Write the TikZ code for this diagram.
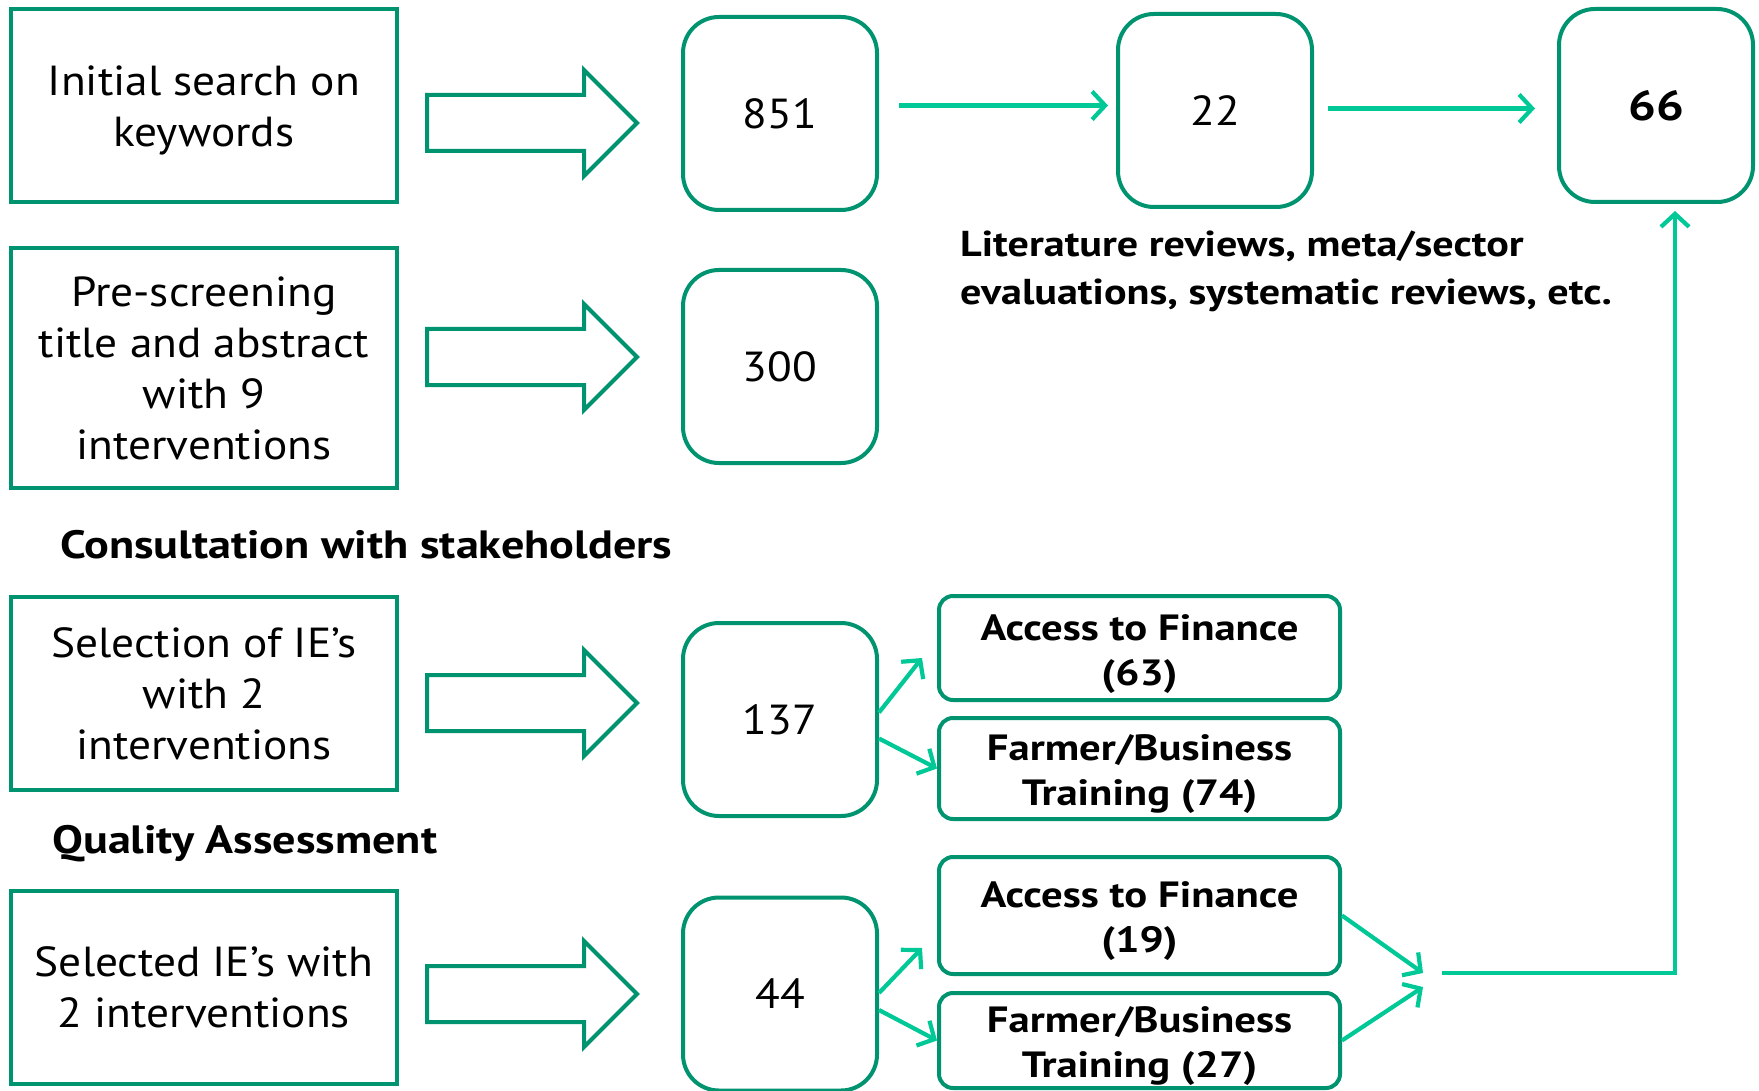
\documentclass[tikz,border=0pt]{standalone}
\usepackage{fontspec}
\setmainfont{PT Sans}[FakeStretch=1.08, BoldFeatures={FakeStretch=1.17}]
\usepackage{tikz}
\usetikzlibrary{shapes.arrows}
\usetikzlibrary{arrows.meta}
\usetikzlibrary{positioning}
\usetikzlibrary{calc}
\definecolor{boxgreen}{HTML}{00936F}
\definecolor{linegreen}{HTML}{00C896}
\newcommand{\boxfont}{\fontsize{42}{51}\selectfont}
\newcommand{\groupfont}{\fontsize{36.5}{45}\selectfont\bfseries}
\newcommand{\notefont}{\fontsize{39.5}{48}\selectfont\bfseries}
\newcommand{\grouplabel}[2]{\rule{0pt}{38pt}#1\\#2}
\tikzstyle{flow} = [draw=linegreen, line width=4.2pt, -{Straight Barb[length=13pt,width=28pt]}]

\begin{document}
\begin{tikzpicture}[x=1pt, y=-1pt,
				stepbox/.style={draw=boxgreen, line width=4pt, minimum width=386pt, inner sep=0pt, align=center, font=\boxfont},
				countbox/.style={draw=boxgreen, line width=4pt, rounded corners=36pt, minimum width=194pt, minimum height=193pt, font=\boxfont},
				groupbox/.style={draw=boxgreen, line width=4pt, rounded corners=14pt, minimum width=401pt, inner sep=0pt, align=center, font=\groupfont},
				bigarrow/.style={draw=boxgreen, line width=4pt, single arrow, single arrow head extend=25pt, minimum height=210pt, inner ysep=26pt, inner xsep=0pt}]
				\useasboundingbox (0,0) rectangle (1759,1091);
				% left column
				\node[stepbox, minimum height=193pt](box1) at (204, 105.5) {\rule{0pt}{40pt}Initial search on\\keywords};
				\node[stepbox, minimum height=240pt](box2) at (204, 368) {Pre-screening\\title and abstract\\with 9\\interventions};
				\node[stepbox, minimum height=193pt](box3) at (204, 693.5) {Selection of IE’s\\with 2\\interventions};
				\node[stepbox, minimum height=193pt](box4) at (204, 987.5) {Selected IE’s with\\2 interventions};
				
				\node[font=\notefont, anchor=north west, inner sep=0pt](consult) at (60, 530) {Consultation with stakeholders};
				\node[font=\notefont, anchor=north west, inner sep=0pt](quality) at (52, 825) {Quality Assessment};
				
				\node[bigarrow](arr1) at (518, 123) {};
				\node[bigarrow](arr2) at (518, 357) {};
				\node[bigarrow](arr3) at (518, 703) {};
				\node[bigarrow](arr4) at (518, 994) {};
				
				% counts
				\node[countbox](num1) at (780, 113.5) {851};
				\node[countbox](num2) at (780, 366.5) {300};
				\node[countbox](num3) at (780, 719.5) {137};
				\node[countbox](num4) at (780, 994) {44};
				\node[countbox](num22) at (1215, 110.5) {22};
				\node[countbox, font=\boxfont\bfseries](num66) at (1656, 105.5) {66};
				
				\node[font=\fontsize{36}{48}\selectfont\bfseries, align=left, anchor=north west, inner sep=0pt](lit) at (960, 231) {Literature reviews, meta/sector\\evaluations, systematic reviews, etc.};
				
				% interventions
				\node[groupbox, minimum height=104pt](fin63) at (1139.5, 648) {\grouplabel{Access to Finance}{(63)}};
				\node[groupbox, minimum height=101pt](train74) at (1139.5, 768.5) {\grouplabel{Farmer/Business}{Training (74)}};
				\node[groupbox, minimum height=117pt](fin19) at (1139.5, 915.5) {\grouplabel{Access to Finance}{(19)}};
				\node[groupbox, minimum height=95pt](train27) at (1139.5, 1040.5) {\grouplabel{Farmer/Business}{Training (27)}};
				
				\coordinate (tip63) at (922, 658);
				\coordinate (tip19) at (922, 948);
				\coordinate (join1) at (1423, 973);
				\coordinate (join2) at (1423, 987);
				\coordinate (joinline) at (1442, 973);
				
				\draw[flow, shorten <=20pt, shorten >=8pt] ([yshift=8pt]num1.east) -- ([yshift=8pt]num1.east -| num22.west);
				\draw[flow, shorten <=14pt, shorten >=22pt] ([yshift=2pt]num22.east) -- ([yshift=2pt]num22.east -| num66.west);
				\draw[flow] ([yshift=7pt]num3.east) -- (tip63);
				\draw[flow] ([yshift=-19pt]num3.east) -- (train74.west);
				\draw[flow] ([yshift=1pt]num4.east) -- (tip19);
				\draw[flow] ([yshift=-16pt]num4.east) -- (train27.west);
				\draw[flow] (fin19.east) -- (join1);
				\draw[flow] (train27.east) -- (join2);
				\draw[flow] (joinline) -| ([xshift=19pt, yshift=-7pt]num66.south);
			\end{tikzpicture}
\end{document}
